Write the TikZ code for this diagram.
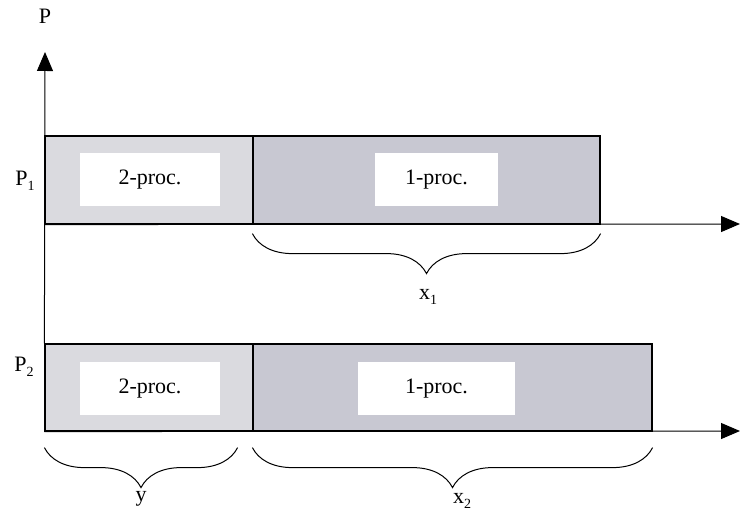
\documentclass[tikz,border=0pt]{standalone}
\usepackage{fontspec}
\setmainfont{Liberation Serif}
\usetikzlibrary{arrows.meta,decorations.pathreplacing,positioning}
\definecolor{twofill}{HTML}{DADADF}
\definecolor{onefill}{HTML}{C8C8D2}
\newcommand{\lowidx}[1]{\raisebox{-0.45ex}{\fontsize{14}{14}\selectfont #1}}

\begin{document}
\begin{tikzpicture}[
    x=1pt, y=-1pt,
    font=\fontsize{22}{26}\selectfont,
    block/.style={draw, line width=1.2pt, inner sep=0pt},
    hole/.style={fill=white, minimum height=53pt, inner sep=0pt},
    axis/.style={line width=1pt, -{Triangle[length=19pt,width=16pt]}},
    brc/.style={decorate, decoration={brace, mirror, amplitude=40pt}, line width=1pt}
]
  \useasboundingbox (0,0) rectangle (741,518);

  % ===== P1 (arriba) =====
  \node[block, fill=twofill, minimum width=208pt, minimum height=88pt] (p1a) at (149,180) {};
  \node[block, fill=onefill, minimum width=347pt, minimum height=88pt] (p1b) at (426.5,180) {};
  \node[hole, minimum width=140pt] (h1a) at (150,180) {2-proc.};
  \node[hole, minimum width=123pt] (h1b) at (436.5,180) {1-proc.};

  % ===== P2 (abajo) =====
  \node[block, fill=twofill, minimum width=208pt, minimum height=87pt] (p2a) at (149,387.5) {};
  \node[block, fill=onefill, minimum width=399pt, minimum height=87pt] (p2b) at (452.5,387.5) {};
  \node[hole, minimum width=140pt] (h2a) at (150,388.5) {2-proc.};
  \node[hole, minimum width=157pt] (h2b) at (436.5,388.5) {1-proc.};

  % ejes
  \coordinate (ptop) at (45,52);
  \coordinate (t1) at (740,224);
  \coordinate (t2) at (740,431);
  \draw[axis] (p2a.north west) -- (ptop);
  \draw[axis] (p1a.south west) -- (t1);
  \draw[axis] (p2a.south west) -- (t2);

  \node (lp) at (45,16) {P};
  \node (lp1) at (25,181) {P\lowidx{1}};
  \node (lp2) at (24,367) {P\lowidx{2}};

  % llaves
  \draw[brc] ([yshift=-9pt]p1b.south west) -- ([yshift=-9pt]p1b.south east);
  \draw[brc] ([yshift=-16pt]p2a.south west) -- ([xshift=-16pt,yshift=-16pt]p2a.south east);
  \draw[brc] ([yshift=-16pt]p2b.south west) -- ([yshift=-16pt]p2b.south east);
  \node (lx1) at (428,297) {x\lowidx{1}};
  \node (ly) at (141,499) {y};
  \node (lx2) at (462,501) {x\lowidx{2}};
\end{tikzpicture}
\end{document}
